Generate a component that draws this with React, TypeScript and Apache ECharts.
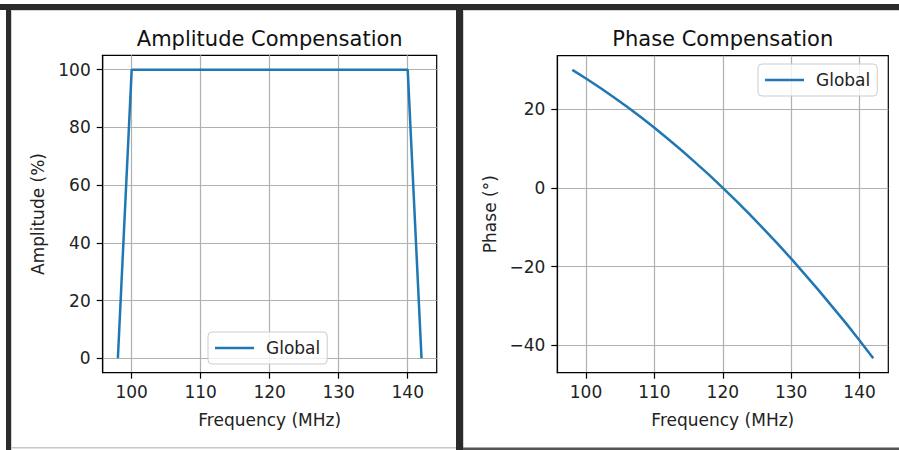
import React, { useEffect, useRef } from "react";
import * as echarts from "echarts";

const FONT = "DejaVu Sans";

const ampFreq = [98, 100, 140, 142];
const ampValues = [0, 100, 100, 0];

const phaseFreq = [98, 100, 102, 104, 106, 108, 110, 112, 114, 116, 118, 120, 122, 124, 126, 128, 130, 132, 134, 136, 138, 140, 142];
const phaseValues = [30.0, 27.8, 25.5, 23.1, 20.6, 18.0, 15.3, 12.4, 9.5, 6.4, 3.3, 0, -3.4, -6.9, -10.5, -14.2, -18.0, -22.0, -26.0, -30.2, -34.4, -38.8, -43.3];

const xTicks = [100, 110, 120, 130, 140];
const ampTicks = [0, 20, 40, 60, 80, 100];
const phaseTicks = [-40, -20, 0, 20];

const seriesName = "Global";
const titles = ["Amplitude Compensation", "Phase Compensation"];
const xName = "Frequency (MHz)";
const yNames = ["Amplitude (%)", "Phase (°)"];

const fmt = (v: number) => String(v).replace("-", "\u2212");

const textCommon = { fontSize: 17, color: "#222", fontFamily: FONT };

function xAxisCfg(gridIndex: number) {
  return {
    type: "value",
    gridIndex,
    min: 95.8,
    max: 144.2,
    name: xName,
    nameLocation: "middle",
    nameGap: 39,
    nameTextStyle: { ...textCommon },
    axisLine: { show: true, onZero: false, lineStyle: { color: "#000", width: 1.2 } },
    axisTick: { show: true, length: 6, inside: false, customValues: xTicks, lineStyle: { color: "#000", width: 1.2 } },
    axisLabel: { customValues: xTicks, margin: 11, ...textCommon, formatter: fmt },
    splitLine: { show: true, lineStyle: { color: "#b0b0b0", width: 1.2 } },
  };
}

function yAxisCfg(gridIndex: number, min: number, max: number, ticks: number[], name: string, gap: number) {
  return {
    type: "value",
    gridIndex,
    min,
    max,
    name,
    nameLocation: "middle",
    nameGap: gap,
    nameRotate: 90,
    nameTextStyle: { ...textCommon },
    axisLine: { show: true, onZero: false, lineStyle: { color: "#000", width: 1.2 } },
    axisTick: { show: true, length: 6, inside: false, customValues: ticks, lineStyle: { color: "#000", width: 1.2 } },
    axisLabel: { customValues: ticks, margin: 12, ...textCommon, formatter: fmt },
    splitLine: { show: true, lineStyle: { color: "#b0b0b0", width: 1.2 } },
  };
}

function legendCfg(left: number, top: number) {
  return {
    data: [{ name: seriesName, icon: "rect" }],
    left,
    top,
    orient: "horizontal",
    selectedMode: false,
    itemWidth: 39,
    itemHeight: 2.5,
    padding: [6, 7, 6, 7],
    backgroundColor: "rgba(255,255,255,0.8)",
    borderColor: "#cccccc",
    borderWidth: 1,
    borderRadius: 4,
    itemStyle: { color: "#1f77b4", borderWidth: 0 },
    textStyle: { ...textCommon, lineHeight: 20, padding: [0, 0, 0, 7] },
  };
}

const DARK = "#2b2b2b";

export default function App() {
  const ref = useRef<HTMLDivElement>(null);
  useEffect(() => {
    const chart = echarts.init(ref.current!, null, { renderer: "svg", width: 899, height: 450 });
    const option = {
      animation: false,
      backgroundColor: "#ffffff",
      grid: [
        { left: 102.7, top: 55.3, width: 334, height: 317.4, show: true, borderColor: "#000", borderWidth: 1.2, backgroundColor: "transparent" },
        { left: 557.3, top: 55.7, width: 331, height: 317, show: true, borderColor: "#000", borderWidth: 1.2, backgroundColor: "transparent" },
      ],
      xAxis: [xAxisCfg(0), xAxisCfg(1)],
      yAxis: [
        yAxisCfg(0, -5, 105, ampTicks, yNames[0], 56),
        yAxisCfg(1, -47, 33.6, phaseTicks, yNames[1], 59),
      ],
      legend: [legendCfg(208, 332), legendCfg(758, 64)],
      series: [
        {
          name: seriesName,
          type: "line",
          xAxisIndex: 0,
          yAxisIndex: 0,
          data: ampFreq.map((f, i) => [f, ampValues[i]]),
          symbol: "none",
          color: "#1f77b4",
          lineStyle: { color: "#1f77b4", width: 2.5 },
        },
        {
          name: seriesName,
          type: "line",
          xAxisIndex: 1,
          yAxisIndex: 1,
          data: phaseFreq.map((f, i) => [f, phaseValues[i]]),
          symbol: "none",
          smooth: false,
          color: "#1f77b4",
          lineStyle: { color: "#1f77b4", width: 2.5 },
        },
      ],
      graphic: [
        { type: "rect", shape: { x: 0, y: 4, width: 899, height: 6 }, style: { fill: DARK }, silent: true },
        { type: "rect", shape: { x: 6, y: 4, width: 5, height: 446 }, style: { fill: DARK }, silent: true },
        { type: "rect", shape: { x: 456, y: 4, width: 7, height: 446 }, style: { fill: DARK }, silent: true },
        { type: "rect", shape: { x: 11, y: 10, width: 445, height: 1 }, style: { fill: "#d4d4d4" }, silent: true },
        { type: "rect", shape: { x: 463, y: 10, width: 436, height: 1 }, style: { fill: "#d4d4d4" }, silent: true },
        { type: "rect", shape: { x: 11, y: 10, width: 1, height: 440 }, style: { fill: "#d4d4d4" }, silent: true },
        { type: "rect", shape: { x: 463, y: 10, width: 1, height: 440 }, style: { fill: "#d4d4d4" }, silent: true },
        { type: "rect", shape: { x: 11, y: 447, width: 445, height: 1.5 }, style: { fill: "#c8c8c8" }, silent: true },
        { type: "rect", shape: { x: 463, y: 447.5, width: 436, height: 2.5 }, style: { fill: "#555555" }, silent: true },
        {
          type: "text",
          x: 269.7,
          y: 39,
          style: { text: titles[0], fontSize: 21, fontFamily: FONT, fill: "#111", textAlign: "center", textVerticalAlign: "middle" },
        },
        {
          type: "text",
          x: 722.8,
          y: 39,
          style: { text: titles[1], fontSize: 21, fontFamily: FONT, fill: "#111", textAlign: "center", textVerticalAlign: "middle" },
        },
      ],
    };
    chart.setOption(option as any);
    return () => chart.dispose();
  }, []);
  return <div ref={ref} style={{ position: "absolute", left: 0, top: 0, width: 899, height: 450 }} />;
}
